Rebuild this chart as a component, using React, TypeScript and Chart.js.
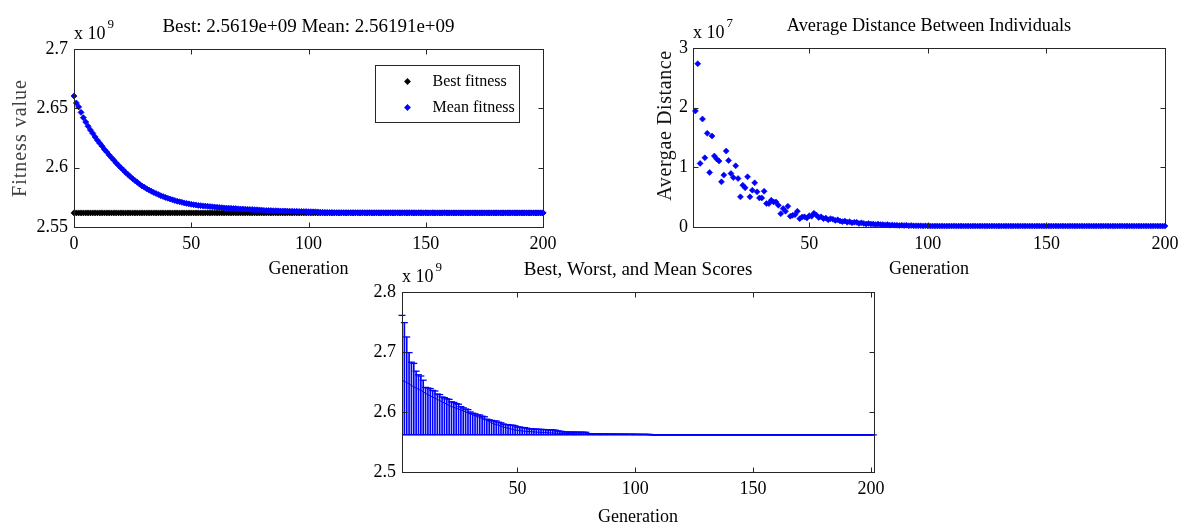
import React, { useEffect, useRef } from "react";
import { Chart, registerables } from "chart.js";

Chart.register(...registerables);

const FONT = '"Liberation Serif", "Times New Roman", Times, serif';
const BLUE = "#0000ff";

// ---------------- data (fitness values in units of 1e9, distances in units of 1e7) ----------------
const fitnessGenerations = Array.from({ length: 201 }, (_, i) => i); // 0..200
const BEST_FITNESS = 2.5619;
const bestFitness = fitnessGenerations.map(() => BEST_FITNESS);
const meanFitness = [
  2.6604, 2.6545, 2.6512, 2.6466, 2.6421, 2.6384, 2.6349, 2.6317, 2.6289, 2.6259, 2.6231,
  2.6205, 2.6181, 2.6153, 2.6131, 2.6106, 2.6084, 2.6063, 2.604, 2.6019, 2.5999,
  2.5981, 2.596, 2.5943, 2.5924, 2.5907, 2.5891, 2.5877, 2.5861, 2.5846, 2.5835,
  2.5822, 2.5811, 2.5801, 2.5791, 2.5782, 2.5773, 2.5764, 2.5757, 2.5749, 2.5742,
  2.5736, 2.5729, 2.5723, 2.5717, 2.5713, 2.5708, 2.5703, 2.5699, 2.5695, 2.5691,
  2.5688, 2.5685, 2.5682, 2.568, 2.5678, 2.5676, 2.5674, 2.5672, 2.567, 2.5668,
  2.5667, 2.5665, 2.5663, 2.5661, 2.566, 2.5659, 2.5657, 2.5656, 2.5655, 2.5653,
  2.5652, 2.5651, 2.565, 2.5649, 2.5648, 2.5647, 2.5646, 2.5645, 2.5644, 2.5643,
  2.564, 2.5639, 2.5639, 2.5638, 2.5637, 2.5637, 2.5636, 2.5635, 2.5635, 2.5634,
  2.5634, 2.5633, 2.5633, 2.5632, 2.5632, 2.5631, 2.5631, 2.563, 2.563, 2.5629,
  2.5629, 2.5628, 2.5628, 2.5627, 2.5625, 2.5624, 2.5623, 2.5623, 2.5622, 2.5622,
  2.5621, 2.5621, 2.5621, 2.5621, 2.5621, 2.5621, 2.5621, 2.5621, 2.5621, 2.5621,
  2.5621, 2.562, 2.5621, 2.562, 2.562, 2.5621, 2.562, 2.562, 2.562, 2.562,
  2.562, 2.562, 2.562, 2.562, 2.562, 2.562, 2.562, 2.562, 2.562, 2.562,
  2.562, 2.562, 2.562, 2.562, 2.562, 2.5619, 2.562, 2.562, 2.5619, 2.562,
  2.5619, 2.5619, 2.562, 2.5619, 2.5619, 2.5619, 2.5619, 2.562, 2.5619, 2.5619,
  2.5619, 2.5619, 2.5619, 2.5619, 2.5619, 2.5619, 2.5619, 2.5619, 2.5619, 2.5619,
  2.5619, 2.5619, 2.5619, 2.5619, 2.5619, 2.5619, 2.5619, 2.5619, 2.5619, 2.5619,
  2.5619, 2.5619, 2.5619, 2.5619, 2.5619, 2.5619, 2.5619, 2.5619, 2.5619, 2.5619,
  2.5619, 2.5619, 2.5619, 2.5619, 2.5619, 2.5619, 2.5619, 2.5619, 2.5619, 2.5619,
];

const distanceGenerations = Array.from({ length: 199 }, (_, i) => i + 2); // 2..200
const avgDistance = [
  1.946, 2.737, 1.066, 1.81, 1.16, 1.57, 0.914, 1.525, 1.19, 1.14,
  1.105, 0.757, 0.87, 1.273, 1.116, 0.897, 0.83, 1.026, 0.813, 0.505,
  0.7, 0.656, 0.841, 0.505, 0.617, 0.74, 0.589, 0.488, 0.488, 0.6,
  0.393, 0.393, 0.449, 0.42, 0.42, 0.365, 0.224, 0.308, 0.264, 0.348,
  0.18, 0.196, 0.207, 0.264, 0.14, 0.168, 0.17, 0.15, 0.19, 0.18,
  0.23, 0.2, 0.16, 0.17, 0.14, 0.15, 0.12, 0.14, 0.13, 0.11,
  0.12, 0.1, 0.09, 0.1, 0.08, 0.09, 0.07, 0.08, 0.08, 0.06,
  0.07, 0.06, 0.05, 0.06, 0.05, 0.05, 0.04, 0.05, 0.04, 0.04,
  0.035, 0.04, 0.03, 0.035, 0.03, 0.03, 0.025, 0.03, 0.025, 0.03,
  0.02, 0.025, 0.02, 0.02, 0.02, 0.02, 0.018, 0.02, 0.018, 0.017,
  0.017, 0.016, 0.018, 0.015, 0.017, 0.016, 0.015, 0.017, 0.016, 0.018,
  0.015, 0.016, 0.017, 0.015, 0.016, 0.016, 0.015, 0.017, 0.016, 0.015,
  0.016, 0.017, 0.015, 0.016, 0.015, 0.016, 0.017, 0.015, 0.016, 0.015,
  0.016, 0.015, 0.017, 0.016, 0.015, 0.016, 0.015, 0.016, 0.017, 0.015,
  0.016, 0.015, 0.016, 0.015, 0.017, 0.016, 0.015, 0.016, 0.015, 0.016,
  0.015, 0.016, 0.017, 0.015, 0.016, 0.015, 0.016, 0.015, 0.016, 0.017,
  0.015, 0.016, 0.015, 0.016, 0.015, 0.017, 0.016, 0.015, 0.016, 0.015,
  0.016, 0.015, 0.016, 0.017, 0.015, 0.016, 0.015, 0.016, 0.015, 0.016,
  0.017, 0.015, 0.016, 0.015, 0.016, 0.015, 0.016, 0.017, 0.015, 0.016,
  0.015, 0.016, 0.015, 0.016, 0.017, 0.015, 0.016, 0.015, 0.016,
];

const scoreGenerations = Array.from({ length: 201 }, (_, i) => i + 1); // 1..201
const BEST_SCORE = 2.5619;
const bestScore = scoreGenerations.map(() => BEST_SCORE);
const worstScore = [
  2.761, 2.749, 2.725, 2.699, 2.683, 2.681, 2.668, 2.662, 2.66, 2.653,
  2.641, 2.64, 2.639, 2.636, 2.635, 2.63, 2.629, 2.625, 2.624, 2.622,
  2.621, 2.617, 2.616, 2.614, 2.613, 2.609, 2.607, 2.605, 2.604, 2.6,
  2.598, 2.597, 2.595, 2.595, 2.593, 2.592, 2.588, 2.587, 2.586, 2.585,
  2.585, 2.583, 2.582, 2.58, 2.579, 2.579, 2.578, 2.578, 2.577, 2.575,
  2.575, 2.574, 2.574, 2.573, 2.572, 2.5718, 2.5716, 2.5714, 2.5712, 2.571,
  2.5708, 2.5706, 2.5704, 2.5702, 2.57, 2.5698, 2.5685, 2.568, 2.5675, 2.5667,
  2.5666, 2.5666, 2.5665, 2.5665, 2.5664, 2.5664, 2.5663, 2.5663, 2.5662, 2.564,
  2.5638, 2.5637, 2.5636, 2.5636, 2.5635, 2.5635, 2.5634, 2.5634, 2.5633, 2.5633,
  2.5632, 2.5632, 2.5632, 2.5631, 2.5631, 2.5631, 2.563, 2.563, 2.563, 2.5629,
  2.5629, 2.5628, 2.5628, 2.5628, 2.5627, 2.5627, 2.5619, 2.5619, 2.5619, 2.5619,
  2.5619, 2.5619, 2.5619, 2.5619, 2.5619, 2.5619, 2.5619, 2.5619, 2.5619, 2.5619,
  2.5619, 2.5619, 2.5619, 2.5619, 2.5619, 2.5619, 2.5619, 2.5619, 2.5619, 2.5619,
  2.5619, 2.5619, 2.5619, 2.5619, 2.5619, 2.5619, 2.5619, 2.5619, 2.5619, 2.5619,
  2.5619, 2.5619, 2.5619, 2.5619, 2.5619, 2.5619, 2.5619, 2.5619, 2.5619, 2.5619,
  2.5619, 2.5619, 2.5619, 2.5619, 2.5619, 2.5619, 2.5619, 2.5619, 2.5619, 2.5619,
  2.5619, 2.5619, 2.5619, 2.5619, 2.5619, 2.5619, 2.5619, 2.5619, 2.5619, 2.5619,
  2.5619, 2.5619, 2.5619, 2.5619, 2.5619, 2.5619, 2.5619, 2.5619, 2.5619, 2.5619,
  2.5619, 2.5619, 2.5619, 2.5619, 2.5619, 2.5619, 2.5619, 2.5619, 2.5619, 2.5619,
  2.5619, 2.5619, 2.5619, 2.5619, 2.5619, 2.5619, 2.5619, 2.5619, 2.5619, 2.5619,
  2.5619,
];
const meanScore = [
  2.653, 2.651, 2.649, 2.647, 2.644, 2.642, 2.64, 2.638, 2.636, 2.634,
  2.631, 2.629, 2.627, 2.625, 2.623, 2.621, 2.619, 2.617, 2.615, 2.613,
  2.611, 2.609, 2.608, 2.606, 2.605, 2.603, 2.602, 2.6, 2.598, 2.597,
  2.595, 2.594, 2.592, 2.591, 2.589, 2.588, 2.586, 2.584, 2.582, 2.58,
  2.579, 2.578, 2.576, 2.575, 2.574, 2.573, 2.572, 2.571, 2.57, 2.5695,
  2.569, 2.5685, 2.568, 2.5677, 2.5674, 2.5671, 2.5668, 2.5665, 2.5662, 2.566,
  2.5658, 2.5656, 2.5654, 2.5652, 2.565, 2.5648, 2.5646, 2.5645, 2.5644, 2.5643,
  2.5642, 2.5641, 2.564, 2.5639, 2.5638, 2.5637, 2.5636, 2.5635, 2.5634, 2.5633,
  2.5632, 2.5632, 2.5631, 2.5631, 2.563, 2.563, 2.5629, 2.5629, 2.5628, 2.5628,
  2.5627, 2.5627, 2.5626, 2.5626, 2.5625, 2.5625, 2.5624, 2.5624, 2.5623, 2.5623,
  2.5622, 2.5622, 2.5621, 2.5621, 2.562, 2.562, 2.562, 2.5619, 2.5619, 2.5619,
  2.5619, 2.5619, 2.5619, 2.5619, 2.5619, 2.5619, 2.5619, 2.5619, 2.5619, 2.5619,
  2.5619, 2.5619, 2.5619, 2.5619, 2.5619, 2.5619, 2.5619, 2.5619, 2.5619, 2.5619,
  2.5619, 2.5619, 2.5619, 2.5619, 2.5619, 2.5619, 2.5619, 2.5619, 2.5619, 2.5619,
  2.5619, 2.5619, 2.5619, 2.5619, 2.5619, 2.5619, 2.5619, 2.5619, 2.5619, 2.5619,
  2.5619, 2.5619, 2.5619, 2.5619, 2.5619, 2.5619, 2.5619, 2.5619, 2.5619, 2.5619,
  2.5619, 2.5619, 2.5619, 2.5619, 2.5619, 2.5619, 2.5619, 2.5619, 2.5619, 2.5619,
  2.5619, 2.5619, 2.5619, 2.5619, 2.5619, 2.5619, 2.5619, 2.5619, 2.5619, 2.5619,
  2.5619, 2.5619, 2.5619, 2.5619, 2.5619, 2.5619, 2.5619, 2.5619, 2.5619, 2.5619,
  2.5619, 2.5619, 2.5619, 2.5619, 2.5619, 2.5619, 2.5619, 2.5619, 2.5619, 2.5619,
  2.5619,
];

// tick labels
const fitnessXTicks = [0, 50, 100, 150, 200];
const fitnessYTicks = [2.55, 2.6, 2.65, 2.7];
const genTicks = [50, 100, 150, 200];
const distanceYTicks = [0, 1, 2, 3];
const scoreYTicks = [2.5, 2.6, 2.7, 2.8];

const fitnessTitle = "Best: 2.5619e+09 Mean: 2.56191e+09";
const distanceTitle = "Average Distance Between Individuals";
const scoreTitle = "Best, Worst, and Mean Scores";
const legendItems = [
  { label: "Best fitness", color: "#000000" },
  { label: "Mean fitness", color: BLUE },
];

// ---------------- helpers ----------------
type Decor = {
  title: string;
  titleSize: number;
  exponent: string;
  xlabel: string;
  xlabelDy: number;
  ylabel?: string;
  ylabelColor?: string;
  ylabelX?: number;
  ylabelDy?: number;
  ylabelSpacing?: string;
  legend?: { label: string; color: string }[];
};

function diamond(ctx: CanvasRenderingContext2D, x: number, y: number, r: number, color: string) {
  ctx.beginPath();
  ctx.moveTo(x, y - r);
  ctx.lineTo(x + r, y);
  ctx.lineTo(x, y + r);
  ctx.lineTo(x - r, y);
  ctx.closePath();
  ctx.fillStyle = color;
  ctx.fill();
}

function decorPlugin(d: Decor) {
  return {
    id: "decor",
    afterDraw(chart: any) {
      const { ctx, chartArea: a, scales } = chart;
      const xs = scales.x;
      const ys = scales.y;
      ctx.save();
      // frame
      ctx.strokeStyle = "#262626";
      ctx.lineWidth = 1;
      const L = Math.round(a.left) + 0.5;
      const R = Math.round(a.right) + 0.5;
      const T = Math.round(a.top) + 0.5;
      const B = Math.round(a.bottom) + 0.5;
      ctx.strokeRect(L, T, R - L, B - T);
      const TL = 5;
      ctx.beginPath();
      xs.ticks.forEach((t: any) => {
        const px = Math.round(xs.getPixelForValue(t.value)) + 0.5;
        ctx.moveTo(px, B);
        ctx.lineTo(px, B - TL);
        ctx.moveTo(px, T);
        ctx.lineTo(px, T + TL);
      });
      ys.ticks.forEach((t: any) => {
        const py = Math.round(ys.getPixelForValue(t.value)) + 0.5;
        ctx.moveTo(L, py);
        ctx.lineTo(L + TL, py);
        ctx.moveTo(R, py);
        ctx.lineTo(R - TL, py);
      });
      ctx.stroke();

      // texts
      const cx = (a.left + a.right) / 2;
      ctx.fillStyle = "#000";
      ctx.textBaseline = "alphabetic";
      ctx.textAlign = "center";
      ctx.font = `${d.titleSize}px ${FONT}`;
      ctx.fillText(d.title, cx, a.top - 17);
      ctx.font = `18px ${FONT}`;
      ctx.fillText(d.xlabel, cx, a.bottom + d.xlabelDy);

      ctx.textAlign = "left";
      ctx.fillText("x 10", a.left, a.top - 10);
      const w = ctx.measureText("x 10").width;
      ctx.font = `13px ${FONT}`;
      ctx.fillText(d.exponent, a.left + w + 2, a.top - 21);

      if (d.ylabel) {
        ctx.save();
        ctx.translate(d.ylabelX ?? 20, (a.top + a.bottom) / 2 + (d.ylabelDy ?? 0));
        ctx.rotate(-Math.PI / 2);
        ctx.font = `20px ${FONT}`;
        (ctx as any).letterSpacing = d.ylabelSpacing ?? "1px";
        ctx.fillStyle = d.ylabelColor ?? "#000";
        ctx.textAlign = "center";
        ctx.textBaseline = "middle";
        ctx.fillText(d.ylabel, 0, 0);
        ctx.restore();
      }

      if (d.legend) {
        const bw = 144;
        const bh = 57;
        const bx = Math.round(a.right - 24 - bw) + 0.5;
        const by = Math.round(a.top + 16) + 0.5;
        ctx.fillStyle = "#fff";
        ctx.fillRect(bx, by, bw, bh);
        ctx.strokeStyle = "#262626";
        ctx.strokeRect(bx, by, bw, bh);
        ctx.font = `16px ${FONT}`;
        ctx.textAlign = "left";
        ctx.textBaseline = "middle";
        d.legend.forEach((item, i) => {
          const ry = by + 16 + i * 26;
          diamond(ctx, bx + 32, ry, 3.4, item.color);
          ctx.fillStyle = "#000";
          ctx.fillText(item.label, bx + 57, ry);
        });
      }
      ctx.restore();
    },
  };
}

type AxisSpec = {
  xMin: number;
  xMax: number;
  xTicks: number[];
  yMin: number;
  yMax: number;
  yTicks: number[];
  yFmt: (v: number) => string;
  padding: { left: number; top: number; right: number; bottom: number };
  yWidth: number;
  xHeight: number;
  xPad: number;
  yPad: number;
};

function baseOptions(p: AxisSpec) {
  const tickFont = { family: FONT, size: 18 };
  return {
    responsive: false,
    maintainAspectRatio: false,
    animation: false as const,
    devicePixelRatio: 1,
    events: [],
    layout: { padding: p.padding },
    plugins: {
      legend: { display: false },
      tooltip: { enabled: false },
      title: { display: false },
    },
    scales: {
      x: {
        type: "linear" as const,
        min: p.xMin,
        max: p.xMax,
        offset: false,
        grid: { display: false, drawTicks: false },
        border: { display: false },
        afterBuildTicks: (s: any) => {
          s.ticks = p.xTicks.map((v) => ({ value: v }));
        },
        afterFit: (s: any) => {
          s.height = p.xHeight;
        },
        ticks: {
          padding: p.xPad,
          font: tickFont,
          color: "#000",
          maxRotation: 0,
          autoSkip: false,
          callback: (v: any) => String(v),
        },
      },
      y: {
        type: "linear" as const,
        min: p.yMin,
        max: p.yMax,
        grid: { display: false, drawTicks: false },
        border: { display: false },
        afterBuildTicks: (s: any) => {
          s.ticks = p.yTicks.map((v) => ({ value: v }));
        },
        afterFit: (s: any) => {
          s.width = p.yWidth;
        },
        ticks: {
          padding: p.yPad,
          font: tickFont,
          color: "#000",
          autoSkip: false,
          callback: (v: any) => p.yFmt(Number(v)),
        },
      },
    },
  };
}

const fmt2 = (v: number) => String(Math.round(v * 100) / 100);

function fitnessConfig(): any {
  return {
    type: "scatter",
    data: {
      datasets: [
        {
          label: "Mean fitness",
          data: fitnessGenerations.map((g, i) => ({ x: g, y: meanFitness[i] })),
          pointStyle: "rectRot",
          pointRadius: 3,
          borderWidth: 0.8,
          backgroundColor: BLUE,
          borderColor: BLUE,
          clip: false,
          order: 0,
        },
        {
          label: "Best fitness",
          data: fitnessGenerations.map((g, i) => ({ x: g, y: bestFitness[i] })),
          pointStyle: "rectRot",
          pointRadius: 3,
          borderWidth: 0.8,
          backgroundColor: "#000",
          borderColor: "#000",
          clip: false,
          order: 1,
        },
      ],
    },
    options: baseOptions({
      xMin: 0,
      xMax: 200,
      xTicks: fitnessXTicks,
      yMin: 2.55,
      yMax: 2.7,
      yTicks: fitnessYTicks,
      yFmt: fmt2,
      padding: { left: 0, top: 49, right: 52, bottom: 0 },
      yWidth: 74,
      xHeight: 63,
      xPad: 6,
      yPad: 6,
    }),
    plugins: [
      decorPlugin({
        title: fitnessTitle,
        titleSize: 19,
        exponent: "9",
        xlabel: "Generation",
        xlabelDy: 47,
        ylabel: "Fitness value",
        ylabelColor: "#404040",
        ylabelX: 21,
        ylabelDy: 0,
        ylabelSpacing: "1px",
        legend: legendItems,
      }),
    ],
  };
}

function distanceConfig(): any {
  return {
    type: "scatter",
    data: {
      datasets: [
        {
          label: "Average distance",
          data: distanceGenerations.map((g, i) => ({ x: g, y: avgDistance[i] })),
          pointStyle: "rectRot",
          pointRadius: 3,
          borderWidth: 0.6,
          backgroundColor: BLUE,
          borderColor: BLUE,
          clip: false,
        },
      ],
    },
    options: baseOptions({
      xMin: 1,
      xMax: 200,
      xTicks: genTicks,
      yMin: 0,
      yMax: 3,
      yTicks: distanceYTicks,
      yFmt: (v) => String(Math.round(v)),
      padding: { left: 0, top: 48, right: 21, bottom: 0 },
      yWidth: 93,
      xHeight: 63,
      xPad: 6,
      yPad: 5,
    }),
    plugins: [
      decorPlugin({
        title: distanceTitle,
        titleSize: 18.3,
        exponent: "7",
        xlabel: "Generation",
        xlabelDy: 47,
        ylabel: "Avergae Distance",
        ylabelColor: "#111",
        ylabelX: 66,
        ylabelDy: -12,
        ylabelSpacing: "0.6px",
      }),
    ],
  };
}

function scoreConfig(): any {
  return {
    type: "bar",
    data: {
      datasets: [
        {
          type: "line",
          label: "Best",
          data: scoreGenerations.map((g, i) => ({ x: g, y: bestScore[i] })),
          borderColor: BLUE,
          borderWidth: 1.5,
          pointRadius: 0,
          order: 0,
        },
        {
          type: "scatter",
          label: "Worst",
          data: scoreGenerations.map((g, i) => ({ x: g, y: worstScore[i] })),
          pointStyle: "line",
          pointRadius: 3.5,
          borderWidth: 1.3,
          borderColor: BLUE,
          backgroundColor: BLUE,
          clip: false,
          order: 1,
        },
        {
          type: "line",
          label: "Mean",
          data: scoreGenerations.map((g, i) => ({ x: g, y: meanScore[i] })),
          borderColor: BLUE,
          borderWidth: 1,
          pointRadius: 0,
          order: 2,
        },
        {
          type: "bar",
          label: "Range",
          data: scoreGenerations.map((g, i) => ({ x: g, y: [bestScore[i], worstScore[i]] })),
          backgroundColor: BLUE,
          borderWidth: 0,
          barThickness: 1,
          grouped: false,
          order: 3,
        },
      ],
    },
    options: baseOptions({
      xMin: 1,
      xMax: 201.3,
      xTicks: genTicks,
      yMin: 2.5,
      yMax: 2.8,
      yTicks: scoreYTicks,
      yFmt: (v) => (Math.round(v * 10) / 10).toFixed(1),
      padding: { left: 0, top: 42, right: 56, bottom: 0 },
      yWidth: 72,
      xHeight: 55,
      xPad: 6,
      yPad: 6,
    }),
    plugins: [
      decorPlugin({
        title: scoreTitle,
        titleSize: 19,
        exponent: "9",
        xlabel: "Generation",
        xlabelDy: 50,
      }),
    ],
  };
}

function ChartBox(props: { left: number; top: number; width: number; height: number; make: () => any }) {
  const ref = useRef<HTMLCanvasElement>(null);
  useEffect(() => {
    const chart = new Chart(ref.current as HTMLCanvasElement, props.make());
    return () => chart.destroy();
  }, []);
  return (
    <canvas
      ref={ref}
      width={props.width}
      height={props.height}
      style={{
        position: "absolute",
        left: props.left,
        top: props.top,
        width: props.width,
        height: props.height,
      }}
    />
  );
}

export default function App() {
  return (
    <div
      style={{
        position: "fixed",
        left: 0,
        top: 0,
        width: 1186,
        height: 527,
        background: "#fff",
        overflow: "hidden",
      }}
    >
      <ChartBox left={0} top={0} width={595} height={290} make={fitnessConfig} />
      <ChartBox left={600} top={0} width={586} height={290} make={distanceConfig} />
      <ChartBox left={330} top={250} width={600} height={277} make={scoreConfig} />
    </div>
  );
}
